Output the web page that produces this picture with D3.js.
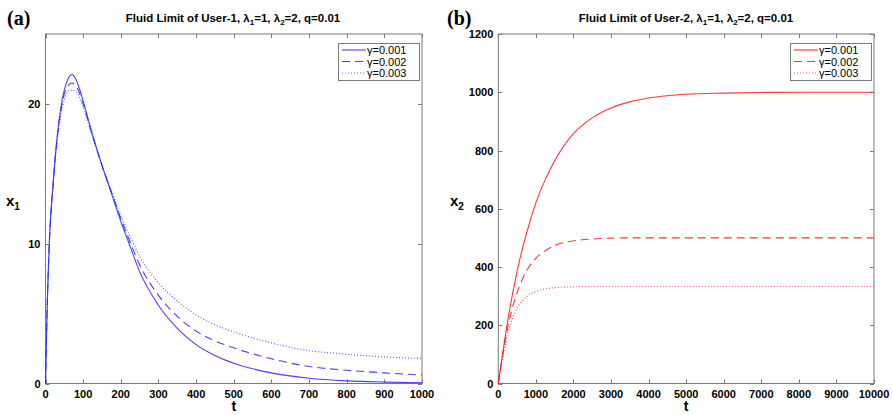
<!DOCTYPE html>
<html>
<head>
<meta charset="utf-8">
<script src="https://d3js.org/d3.v7.min.js"></script>
<style>
  body { margin: 0; background: #fff; }
  svg { display: block; font-family: "Liberation Sans", Arial, Helvetica, sans-serif; }
</style>
</head>
<body>
<svg id="chart" width="893" height="415"></svg>
<script>
// ---- data ----
var gammaLabels = ["\u03b3=0.001", "\u03b3=0.002", "\u03b3=0.003"];

// panel (a): user-1
var t1 = [0, 5, 10, 20, 30, 40, 50, 60, 70, 80, 90, 100, 125, 150, 175, 200, 225, 250, 300, 350, 400, 450, 500, 600, 700, 800, 900, 1000];
var x1g1 = [0, 6, 10, 14.2, 17.4, 19.6, 21.0, 21.8, 22.1, 21.8, 21.1, 20.2, 17.8, 15.6, 13.6, 11.6, 9.8, 8.0, 5.6, 3.95, 2.78, 2.0, 1.45, 0.76, 0.38, 0.19, 0.1, 0.05];
var x1g2 = [0, 6, 10, 14.2, 17.3, 19.4, 20.7, 21.3, 21.5, 21.3, 20.8, 20.0, 17.7, 15.6, 13.7, 11.8, 10.1, 8.5, 6.3, 4.8, 3.75, 3.05, 2.55, 1.77, 1.22, 0.95, 0.76, 0.6];
var x1g3 = [0, 6, 9.9, 14.1, 17.1, 19.1, 20.3, 20.9, 21.0, 20.9, 20.5, 19.8, 17.6, 15.6, 13.8, 12.0, 10.5, 9.1, 7.2, 5.9, 4.9, 4.2, 3.7, 2.9, 2.35, 2.1, 1.9, 1.8];

// panel (b): user-2
var t2 = [0, 250, 500, 750, 1000, 1250, 1500, 2000, 2500, 3000, 3500, 4000, 4500, 5000, 6000, 7000, 8000, 9000, 10000];
var x2g1 = [0, 215, 385, 515, 620, 700, 765, 858, 912, 946, 967, 980, 988, 993, 997, 999, 1000, 1000, 1000];
var x2g2 = [0, 192, 312, 386, 430, 456, 474, 490, 496, 499, 500, 500, 500, 500, 500, 500, 500, 500, 500];
var x2g3 = [0, 172, 258, 298, 316, 325, 329, 332, 333, 333, 333, 333, 333, 333, 333, 333, 333, 333, 333];

var xTicks1 = d3.range(0, 1001, 100);
var yTicks1 = [0, 10, 20];
var xTicks2 = d3.range(0, 10001, 1000);
var yTicks2 = d3.range(0, 1201, 200);

var dashes = [null, "8,5", "1,2"];

var svg = d3.select("#chart");

function panel(opt) {
  var x = d3.scaleLinear().domain(opt.xdom).range([opt.left, opt.right]);
  var y = d3.scaleLinear().domain(opt.ydom).range([opt.bottom, opt.top]);
  var g = svg.append("g");

  // frame
  g.append("rect")
    .attr("x", opt.left).attr("y", opt.top)
    .attr("width", opt.right - opt.left).attr("height", opt.bottom - opt.top)
    .attr("fill", "none").attr("stroke", "#7a7a7a").attr("stroke-width", 1);

  // ticks on all four sides (inside), labels bottom/left
  var tk = 4;
  opt.xticks.forEach(function(v) {
    var px = Math.round(x(v)) + 0.5;
    g.append("line").attr("x1", px).attr("x2", px).attr("y1", opt.bottom).attr("y2", opt.bottom - tk).attr("stroke", "#7a7a7a");
    g.append("line").attr("x1", px).attr("x2", px).attr("y1", opt.top).attr("y2", opt.top + tk).attr("stroke", "#7a7a7a");
    g.append("text").attr("x", x(v)).attr("y", opt.bottom + 14)
      .attr("text-anchor", "middle").attr("font-size", 11).attr("font-weight", "bold")
      .text(v);
  });
  opt.yticks.forEach(function(v) {
    var py = Math.round(y(v)) + 0.5;
    g.append("line").attr("x1", opt.left).attr("x2", opt.left + tk).attr("y1", py).attr("y2", py).attr("stroke", "#7a7a7a");
    g.append("line").attr("x1", opt.right).attr("x2", opt.right - tk).attr("y1", py).attr("y2", py).attr("stroke", "#7a7a7a");
    g.append("text").attr("x", opt.left - 5).attr("y", y(v) + 4)
      .attr("text-anchor", "end").attr("font-size", 11).attr("font-weight", "bold")
      .text(v);
  });

  // curves
  var line = d3.line()
    .x(function(d) { return x(d[0]); })
    .y(function(d) { return y(d[1]); })
    .curve(d3.curveMonotoneX);

  opt.series.forEach(function(s, i) {
    g.append("path")
      .datum(opt.t.map(function(tv, j) { return [tv, s[j]]; }))
      .attr("d", line)
      .attr("fill", "none")
      .attr("stroke", opt.color)
      .attr("stroke-width", i == 2 ? 1.2 : 1.1)
      .attr("stroke-opacity", i == 2 ? 0.75 : 0.9)
      .attr("stroke-dasharray", dashes[i]);
  });

  // title
  var ttl = g.append("text").attr("x", opt.tx).attr("y", 22)
    .attr("text-anchor", "middle").attr("font-size", 11.5).attr("font-weight", "bold");
  ttl.append("tspan").text("Fluid Limit of User-" + opt.user + ", \u03bb");
  ttl.append("tspan").attr("font-size", 8).attr("dy", 3).text("1");
  ttl.append("tspan").attr("dy", -3).text("=1, \u03bb");
  ttl.append("tspan").attr("font-size", 8).attr("dy", 3).text("2");
  ttl.append("tspan").attr("dy", -3).text("=2, q=0.01");

  // panel letter
  svg.append("text").attr("x", opt.lx).attr("y", 25)
    .attr("font-family", "Liberation Serif, Times New Roman, serif")
    .attr("font-size", 20).attr("font-weight", "bold").text(opt.letter);

  // axis labels
  g.append("text").attr("x", (opt.left + opt.right) / 2).attr("y", 411)
    .attr("text-anchor", "middle").attr("font-size", 14).attr("font-weight", "bold").text("t");
  var yl = g.append("text").attr("x", opt.ylx).attr("y", 206)
    .attr("font-size", 15).attr("font-weight", "bold");
  yl.append("tspan").text("x");
  yl.append("tspan").attr("font-size", 10).attr("dy", 4).text(opt.user);

  // legend
  var lw = 81, lh = 37;
  var lx = opt.right - 3 - lw, ly = opt.top + 9;
  g.append("rect").attr("x", lx + 0.5).attr("y", ly + 0.5).attr("width", lw).attr("height", lh)
    .attr("fill", "#fff").attr("stroke", "#7a7a7a");
  gammaLabels.forEach(function(lab, i) {
    var yy = ly + 7 + i * 11.5;
    g.append("line").attr("x1", lx + 4).attr("x2", lx + 28).attr("y1", yy).attr("y2", yy)
      .attr("stroke", opt.color).attr("stroke-width", 1.1)
      .attr("stroke-opacity", i == 2 ? 0.75 : 0.9)
      .attr("stroke-dasharray", dashes[i]);
    g.append("text").attr("x", lx + 29).attr("y", yy + 4)
      .attr("font-size", 11).text(lab);
  });
}

panel({
  left: 45.5, right: 422, top: 34, bottom: 383.5,
  xdom: [0, 1000], ydom: [0, 25],
  xticks: xTicks1, yticks: yTicks1,
  t: t1, series: [x1g1, x1g2, x1g3],
  color: "#2f2fff", user: "1", tx: 233, lx: 7, ylx: 6, letter: "(a)"
});

panel({
  left: 498.3, right: 874, top: 34, bottom: 383.5,
  xdom: [0, 10000], ydom: [0, 1200],
  xticks: xTicks2, yticks: yTicks2,
  t: t2, series: [x2g1, x2g2, x2g3],
  color: "#ff2020", user: "2", tx: 686, lx: 447, ylx: 450, letter: "(b)"
});
</script>
</body>
</html>
